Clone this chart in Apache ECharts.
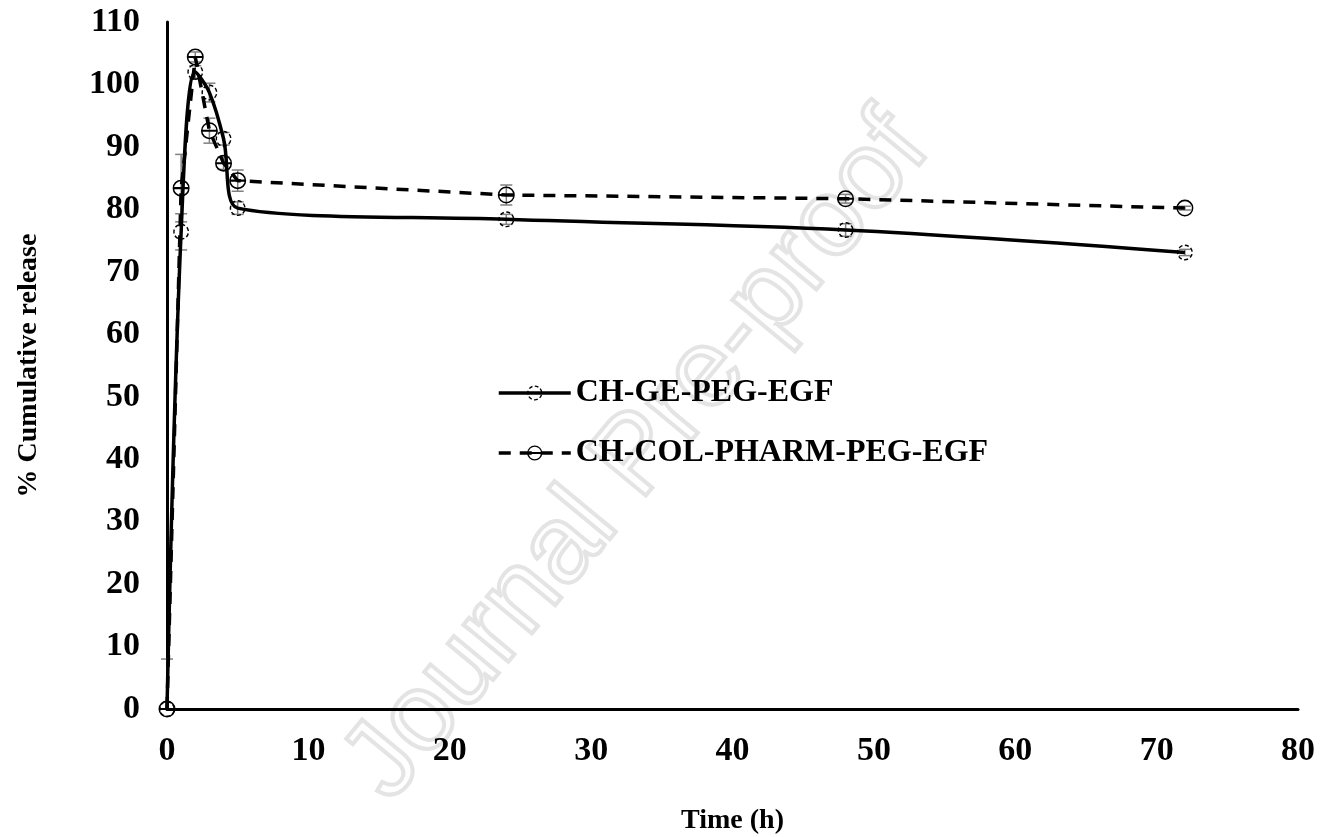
<!DOCTYPE html>
<html><head><meta charset="utf-8">
<script src="https://cdn.jsdelivr.net/npm/echarts@6/dist/echarts.min.js"></script>
<style>html,body{margin:0;padding:0;background:#fff}#c{width:1333px;height:837px}</style>
</head><body><div id="c"></div>
<script>
var time = [0, 1, 2, 3, 4, 5, 24, 48, 72];
var geValues = [0, 76.4, 102.0, 98.7, 91.3, 80.2, 78.4, 76.7, 73.1];
var geErrors = [0, 2.9, 1.0, 1.5, 1.0, 1.0, 0.8, 1.0, 0.5];
var colValues = [0, 83.4, 104.4, 92.6, 87.4, 84.6, 82.3, 81.7, 80.2];
var colErrors = [8, 5.4, 0.8, 2.0, 1.0, 1.7, 1.6, 0.7, 0.3];
var xTicks = [0, 10, 20, 30, 40, 50, 60, 70, 80];
var yTicks = [0, 10, 20, 30, 40, 50, 60, 70, 80, 90, 100, 110];

var FONT = '"Liberation Serif", "Times New Roman", serif';
var chart = echarts.init(document.getElementById('c'));

function pairs(v) { return time.map(function (t, i) { return [t, v[i]]; }); }
function errData(v, e) { return time.map(function (t, i) { return [t, v[i] - e[i], v[i] + e[i]]; }); }

function errRender(params, api) {
  var x = api.value(0), lo = Math.max(0, api.value(1)), hi = api.value(2);
  var p1 = api.coord([x, hi]), p2 = api.coord([x, lo]);
  var w = 6;
  var st = { stroke: '#808080', lineWidth: 1.5 };
  var children = [
    { type: 'line', shape: { x1: p1[0], y1: p1[1], x2: p2[0], y2: p2[1] }, style: st },
    { type: 'line', shape: { x1: p1[0] - w, y1: p1[1], x2: p1[0] + w, y2: p1[1] }, style: st }
  ];
  if (api.value(1) > 0) children.push({ type: 'line', shape: { x1: p2[0] - w, y1: p2[1], x2: p2[0] + w, y2: p2[1] }, style: st });
  return { type: 'group', children: children };
}

function dashedRing() {
  var R = 10, r = 8.2, n = 7, d = '';
  var seg = 2 * Math.PI / n, dash = seg * 0.62;
  function f(v) { return v.toFixed(3); }
  for (var i = 0; i < n; i++) {
    var a0 = i * seg - Math.PI / 2, a1 = a0 + dash;
    d += 'M' + f(R * Math.cos(a0)) + ',' + f(R * Math.sin(a0)) +
      ' A' + R + ',' + R + ' 0 0,1 ' + f(R * Math.cos(a1)) + ',' + f(R * Math.sin(a1)) +
      ' L' + f(r * Math.cos(a1)) + ',' + f(r * Math.sin(a1)) +
      ' A' + r + ',' + r + ' 0 0,0 ' + f(r * Math.cos(a0)) + ',' + f(r * Math.sin(a0)) + ' Z ';
  }
  return 'path://' + d + 'M-10,0 L-10,0.01 Z M10,0 L10,0.01 Z M0,-10 L0.01,-10 Z M0,10 L0.01,10 Z';
}
var ringDashed = dashedRing();
var ringPlain = 'path://M0,-10 A10,10 0 1,1 0,10 A10,10 0 1,1 0,-10 Z M0,-8.2 A8.2,8.2 0 1,0 0,8.2 A8.2,8.2 0 1,0 0,-8.2 Z';
var thetaSymbol = ringPlain + ' M-8.4,-1.2 L8.4,-1.2 L8.4,1.2 L-8.4,1.2 Z';

var colData = pairs(colValues).map(function (p, i) {
  return i === time.length - 1 ? { value: p, symbol: ringPlain } : p;
});

chart.setOption({
  animation: false,
  backgroundColor: '#fff',
  graphic: [{
    type: 'text', z: -10, left: 322, top: 92, rotation: Math.PI * 0.28,
    style: { text: 'Journal Pre-proof', font: '110px "Liberation Sans", Arial, sans-serif', fill: 'rgba(0,0,0,0)', stroke: '#e4e4e4', lineWidth: 4 },
    silent: true
  }],
  grid: { left: 167, right: 35, top: 22, bottom: 128, containLabel: false, outerBoundsMode: 'none' },
  legend: {
    orient: 'vertical', left: 492, top: 372, itemGap: 28, itemWidth: 72, itemHeight: 19,
    lineStyle: { width: 3.5 },
    textStyle: { fontFamily: FONT, fontWeight: 'bold', fontSize: 32, color: '#000' },
    data: ['CH-GE-PEG-EGF', 'CH-COL-PHARM-PEG-EGF']
  },
  xAxis: {
    type: 'value', min: 0, max: 80, interval: 10,
    name: 'Time (h)', nameLocation: 'middle', nameGap: 98,
    nameTextStyle: { fontFamily: FONT, fontWeight: 'bold', fontSize: 28, color: '#000' },
    axisLine: { onZero: false, lineStyle: { color: '#000', width: 3 } },
    axisTick: { show: false }, splitLine: { show: false },
    axisLabel: { margin: 25, fontFamily: FONT, fontWeight: 'bold', fontSize: 34, color: '#000',
      formatter: function (v) { return xTicks.indexOf(v) >= 0 ? String(v) : ''; } }
  },
  yAxis: {
    type: 'value', min: 0, max: 110, interval: 10,
    name: '% Cumulative release', nameLocation: 'middle', nameGap: 124, nameRotate: 90,
    nameTextStyle: { fontFamily: FONT, fontWeight: 'bold', fontSize: 28, color: '#000' },
    axisLine: { show: true, lineStyle: { color: '#000', width: 3 } },
    axisTick: { show: false }, splitLine: { show: false },
    axisLabel: { margin: 27, fontFamily: FONT, fontWeight: 'bold', fontSize: 34, color: '#000',
      formatter: function (v) { return yTicks.indexOf(v) >= 0 ? String(v) : ''; } }
  },
  series: [
    { type: 'custom', name: 'errGE', renderItem: errRender, data: errData(geValues, geErrors), z: 1, silent: true, encode: { x: 0, y: [1, 2] } },
    { type: 'custom', name: 'errCOL', renderItem: errRender, data: errData(colValues, colErrors), z: 1, silent: true, encode: { x: 0, y: [1, 2] } },
    {
      name: 'CH-GE-PEG-EGF', type: 'line', data: pairs(geValues), smooth: 0.35,
      symbol: ringDashed, symbolSize: 16, showAllSymbol: true, z: 3,
      lineStyle: { color: '#000', width: 3.5 },
      itemStyle: { color: '#000', borderWidth: 0 }
    },
    {
      name: 'CH-COL-PHARM-PEG-EGF', type: 'line', data: colData, smooth: false,
      symbol: thetaSymbol, symbolSize: 17, showAllSymbol: true, z: 4,
      lineStyle: { color: '#000', width: 3.5, type: [12, 9] },
      itemStyle: { color: '#000', borderWidth: 0 }
    }
  ]
});
</script></body></html>
